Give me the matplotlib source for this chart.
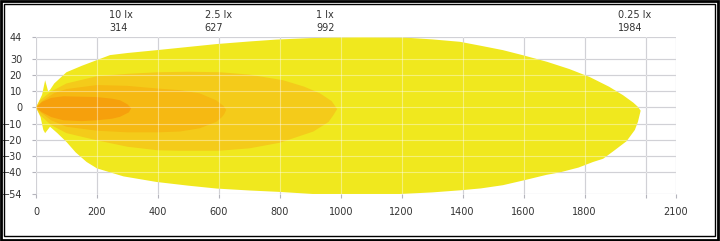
import matplotlib
matplotlib.use("Agg")
from matplotlib import pyplot as plt
from matplotlib.patches import Rectangle

plt.rcParams['font.family'] = ['DejaVu Sans']

# isolux levels (top labels)
lux_labels = ["10 lx", "2.5 lx", "1 lx", "0.25 lx"]
lux_dist = [314, 627, 992, 1984]

# 0.25 lx contour (outer)
x_025 = [0, 20, 30, 40, 46, 60, 100, 150, 200, 243, 300, 397, 500, 593, 700, 790, 900, 976, 1063, 1204,
         1300, 1391, 1460, 1532, 1600, 1677, 1750, 1817, 1880, 1926, 1960, 1975, 1984,
         1975, 1965, 1938, 1900, 1861, 1828, 1780, 1719, 1676, 1600, 1532, 1460, 1391, 1300, 1194,
         1063, 950, 800, 700, 593, 500, 396, 287, 200, 166, 130, 100, 70, 46, 30, 24, 15, 0]
y_025 = [0, 8, 17, 10, 11, 15, 22, 26, 29.6, 32.7, 34, 35.8, 37.8, 39.6, 41.2, 42.4, 43.3, 43.7, 44, 43.7,
         42.5, 41, 38.5, 35.8, 32.5, 28.5, 24, 19, 13, 7.7, 3, 0.4, -2,
         -9, -14, -21, -26.5, -32, -34, -37.5, -40.5, -42, -45.5, -48.5, -50.5, -51.7, -53, -54,
         -55, -54.5, -52.7, -51.8, -50.6, -48.8, -46.5, -43, -38, -34, -28, -21.5, -16, -12, -16, -14, -6, 0]

# 1 lx contour
x_1 = [0, 13, 50, 100, 200, 300, 400, 500, 604, 700, 811, 880, 932, 970, 988,
       975, 960, 910, 800, 700, 600, 470, 400, 300, 200, 100, 50, 15, 0]
y_1 = [0, 4.5, 10, 15, 19.5, 21, 22, 22.3, 22, 20.5, 17, 13, 8.8, 4, -1,
       -5, -9, -15, -22, -25.5, -27, -27, -26.7, -24.5, -20.5, -16, -11, -5, 0]

# 2.5 lx contour
x_25 = [0, 20, 60, 100, 200, 300, 400, 472, 537, 591, 615, 624,
        618, 610, 591, 537, 472, 400, 300, 200, 100, 50, 15, 0]
y_25 = [0, 4, 9, 11.5, 14, 13.5, 11.8, 10.8, 8.8, 4.5, 1, -1.5,
        -4, -6, -9, -13, -15, -15.5, -15.5, -14.5, -12, -8, -3, 0]

# 10 lx contour
x_10 = [0, 20, 50, 90, 199, 250, 276, 300, 312,
        305, 276, 250, 199, 150, 90, 50, 20, 0]
y_10 = [0, 3.5, 6, 7, 6.5, 5.5, 4.5, 2, -0.5,
        -3, -5.8, -7, -8, -8.5, -8, -6, -3, 0]

x_ticks = [0, 200, 400, 600, 800, 1000, 1200, 1400, 1600, 1800, 2000, 2100]
x_ticklabels = ["0", "200", "400", "600", "800", "1000", "1200", "1400", "1600", "1800", "", "2100"]
y_ticks = [44, 30, 20, 10, 0, -10, -20, -30, -40, -54]

fig = plt.figure(figsize=(7.2, 2.41), dpi=100)
ax = fig.add_axes([0.05, 0.195, 0.8889, 0.6515])

shapes = [(x_025, y_025, "#f0e81e"), (x_1, y_1, "#f4cb1a"),
          (x_25, y_25, "#f6b912"), (x_10, y_10, "#f6a00c")]
for xs, ys, c in shapes:
    ax.fill(xs, ys, color=c, lw=0, zorder=2)

ax.set_xlim(0, 2100)
ax.set_ylim(-54, 44)
ax.set_xticks(x_ticks)
ax.set_xticklabels(x_ticklabels)
ax.set_yticks(y_ticks)
ax.grid(True, color="#b4b4bc", lw=0.8, zorder=1)
ax.set_axisbelow(True)
# pale grid over the light fields
for xv in x_ticks:
    ax.axvline(xv, color="white", lw=0.8, alpha=0.4, zorder=3)
for yv in y_ticks:
    ax.axhline(yv, color="white", lw=0.8, alpha=0.4, zorder=3)

for s in ax.spines.values():
    s.set_visible(False)
ax.tick_params(axis="both", length=3, color="#b4b4bc", labelsize=7, labelcolor="#333333")
ax.tick_params(axis="x", pad=6)
ax.tick_params(axis="y", pad=7)

for lab, d in zip(lux_labels, lux_dist):
    ax.annotate(lab, xy=(d, 1), xycoords=("data", "axes fraction"), xytext=(-16, 16),
                textcoords="offset points", ha="left", va="center", fontsize=7, color="#333333")
    ax.annotate(str(d), xy=(d, 1), xycoords=("data", "axes fraction"), xytext=(-16, 6.5),
                textcoords="offset points", ha="left", va="center", fontsize=7, color="#333333")

# double frame around the picture
fig.patches.append(Rectangle((0.0015, 0.004), 0.996, 0.99, transform=fig.transFigure,
                             fill=False, ec="black", lw=2))
fig.patches.append(Rectangle((0.0055, 0.019), 0.987, 0.965, transform=fig.transFigure,
                             fill=False, ec="black", lw=1))

fig.savefig("out.png", dpi=100)
